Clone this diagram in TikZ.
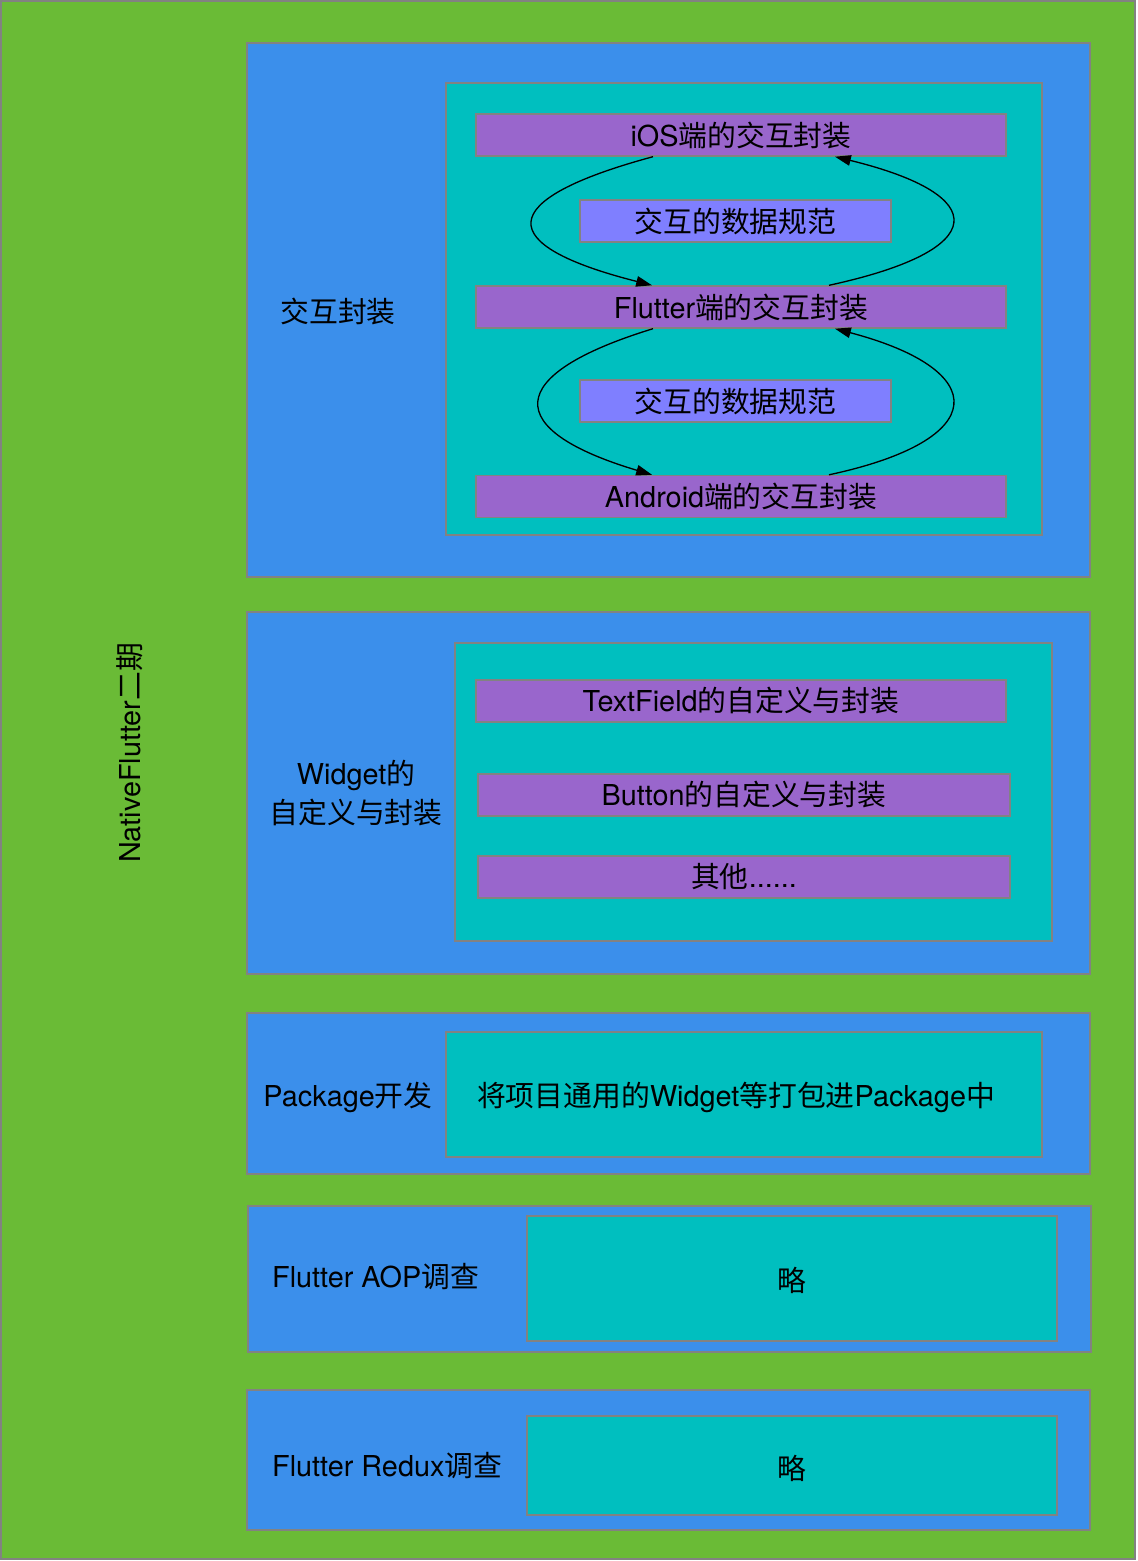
\documentclass[tikz,border=0pt]{standalone}
\usepackage{fontspec}
\setmainfont{TeX Gyre Heros}
\newfontfamily\cjk{Noto Sans CJK SC}
\usepackage{xcolor}
\usetikzlibrary{arrows.meta, calc}
\definecolor{outergreen}{RGB}{106,187,54}
\definecolor{panelblue}{RGB}{59,143,235}
\definecolor{innerteal}{RGB}{0,191,191}
\definecolor{barpurple}{RGB}{153,102,204}
\definecolor{speclav}{RGB}{127,127,255}
\definecolor{edgegray}{RGB}{130,130,130}

\begin{document}
\begin{tikzpicture}[
  x=0.02cm, y=-0.02cm,
  >={Triangle[length=9pt, width=6pt]},
  every node/.style={font=\fontsize{16.4}{22}\selectfont},
  box/.style={draw=edgegray, line width=0.8pt},
  panel/.style={box, fill=panelblue},
  inner/.style={box, fill=innerteal},
  bar/.style={box, fill=barpurple, inner sep=0pt, minimum width=530*0.02cm, minimum height=42*0.02cm},
  spec/.style={box, fill=speclav, inner sep=0pt, minimum width=311*0.02cm, minimum height=42*0.02cm},
  link/.style={->, line width=0.75pt}
]
\useasboundingbox (0,0) rectangle (1137,1561);
\draw[box, fill=outergreen] (1,1) rectangle (1135,1559);
\node[rotate=90] (title) at (130,753) {NativeFlutter{\cjk 二期}};

% interaction layer
\draw[panel] (247,43) rectangle (1090,577);
\draw[inner] (446,83) rectangle (1042,535);
\node (lbl1) at (338,311) {\cjk 交互封装};
\node[bar] (ios) at (741,135) {iOS{\cjk 端的交互封装}};
\node[spec] (spec1) at (735.5,221) {\cjk 交互的数据规范};
\node[bar] (flutter) at (741,307) {Flutter{\cjk 端的交互封装}};
\node[spec] (spec2) at (735.5,401) {\cjk 交互的数据规范};
\node[bar] (android) at (741,496.5) {Android{\cjk 端的交互封装}};
\draw[link] ($(ios.south)+(-88,0)$) .. controls (493,200) and (493,245) .. ($(flutter.north)+(-89,0)$);
\draw[link] ($(flutter.north)+(88,0)$) .. controls (992,250) and (992,195) .. ($(ios.south)+(94,0)$);
\draw[link] ($(flutter.south)+(-88,0)$) .. controls (502,375) and (502,430) .. ($(android.north)+(-89,0)$);
\draw[link] ($(android.north)+(88,0)$) .. controls (992,440) and (992,370) .. ($(flutter.south)+(94,0)$);

% widgets
\draw[panel] (247,612) rectangle (1090,974);
\draw[inner] (455,643) rectangle (1052,941);
\node[align=center] (lbl2) at (356,793) {Widget{\cjk 的}\\{\cjk 自定义与封装}};
\node[bar] (textfield) at (741,701) {TextField{\cjk 的自定义与封装}};
\node[bar, minimum width=532*0.02cm] (button) at (744,795) {Button{\cjk 的自定义与封装}};
\node[bar, minimum width=532*0.02cm] (others) at (744,877) {{\cjk 其他}......};

% package
\draw[panel] (247,1013) rectangle (1090,1174);
\draw[inner] (446,1032) rectangle (1042,1157);
\node (lbl3) at (348,1097) {Package{\cjk 开发}};
\node (pkgtext) at (736,1097) {{\cjk 将项目通用的}Widget{\cjk 等打包进}Package{\cjk 中}};

% research
\draw[panel] (248,1206) rectangle (1091,1352);
\draw[inner] (527,1216) rectangle (1057,1341);
\node[anchor=west] (lbl4) at (266,1277) {Flutter AOP{\cjk 调查}};
\node (skip1) at (792,1280) {\cjk 略};

\draw[panel] (247,1390) rectangle (1090,1530);
\draw[inner] (527,1416) rectangle (1057,1515);
\node[anchor=west] (lbl5) at (266,1466) {Flutter Redux{\cjk 调查}};
\node (skip2) at (792,1468) {\cjk 略};
\end{tikzpicture}
\end{document}
